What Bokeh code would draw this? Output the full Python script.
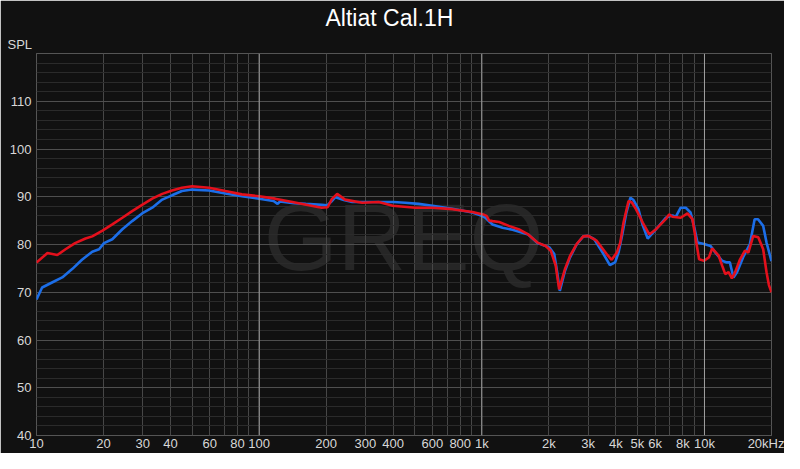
from bokeh.plotting import figure
from bokeh.models import Range1d, FixedTicker, CustomJSTickFormatter, Span, Label, Title
from bokeh.embed import file_html
from bokeh.resources import INLINE

title_text = "Altiat Cal.1H"
y_label = "SPL"
watermark = "GREQ"

x_label_ticks = [10, 20, 30, 40, 60, 80, 100, 200, 300, 400, 600, 800,
                 1000, 2000, 3000, 4000, 5000, 6000, 8000, 10000, 20000]
y_label_ticks = [40, 50, 60, 70, 80, 90, 100, 110]

freq_blue = [10, 10.6, 11.8, 13.05, 14.5, 16.0, 17.8, 19.1, 20.1, 21.9,
             24.3, 26.9, 29.8, 33.1, 36.7, 40.6, 45, 50, 59.6, 70.5,
             83.6, 100, 116, 121, 124, 140, 162, 191, 202, 211,
             220, 240, 262, 300, 344, 400, 453, 520, 600, 738,
             907, 1000, 1040, 1080, 1117, 1239, 1374, 1616, 1779, 2009,
             2115, 2180, 2240, 2364, 2490, 2666, 2855, 3007, 3200, 3520,
             3760, 3970, 4110, 4260, 4450, 4650, 4800, 5050, 5280, 5560,
             6060, 6700, 7180, 7430, 7820, 8240, 8660, 8970, 9300, 9960,
             10650, 11200, 12000, 12600, 13000, 13500, 14000, 14900, 16000, 16800,
             17400, 18350, 19000, 20000]
spl_blue = [68.5, 71.0, 72.1, 73.1, 74.9, 76.8, 78.5, 79.0, 80.3, 81.1,
            83.2, 84.9, 86.5, 87.7, 89.4, 90.3, 91.2, 91.5, 91.3, 90.7,
            90.1, 89.6, 89.1, 88.5, 89.0, 88.7, 88.5, 88.3, 88.2, 89.0,
            89.9, 89.3, 88.9, 88.9, 88.9, 88.9, 88.75, 88.5, 88.1, 87.5,
            86.7, 86.0, 85.6, 84.8, 84.2, 83.5, 83.1, 82.1, 80.3, 79.4,
            78.0, 74.2, 70.3, 74.5, 77.3, 80.0, 81.7, 81.8, 81.1, 78.0,
            75.7, 76.25, 78.3, 81.8, 86.5, 89.8, 89.3, 87.4, 84.0, 81.25,
            83.2, 85.6, 86.1, 85.8, 87.7, 87.7, 86.7, 83.9, 80.4, 80.1,
            79.7, 78.3, 76.6, 76.25, 76.25, 73.1, 74.2, 77.3, 80.1, 85.3,
            85.3, 83.9, 80.4, 76.5]

freq_red = [10, 11.2, 12.4, 13.5, 14.9, 16.6, 17.8, 19.7, 21.9, 24.3,
            26.9, 29.8, 33.1, 36.7, 40.6, 45, 50, 59.6, 70.5, 83.6,
            100, 118, 141, 167, 191, 203, 212, 224, 243, 290,
            344, 398, 503, 600, 738, 907, 1015, 1050, 1080, 1117,
            1196, 1323, 1462, 1616, 1779, 1936, 2040, 2147, 2225, 2364,
            2490, 2666, 2855, 3007, 3277, 3636, 3830, 4040, 4185, 4330,
            4560, 4720, 4925, 5280, 5650, 6060, 6700, 6935, 7180, 7820,
            8390, 8830, 9140, 9460, 9960, 10470, 10830, 11600, 12000, 12400,
            12830, 13280, 13730, 14450, 15200, 15740, 16560, 17440, 18350, 19000,
            19470, 20000]
spl_red = [76.25, 78.2, 77.8, 79.0, 80.3, 81.25, 81.7, 82.85, 84.2, 85.6,
           87.0, 88.3, 89.6, 90.6, 91.3, 91.9, 92.2, 91.9, 91.2, 90.5,
           90.1, 89.6, 88.9, 88.2, 87.7, 87.8, 89.5, 90.6, 89.4, 88.75,
           88.9, 88.1, 87.7, 87.7, 87.4, 86.8, 86.3, 86.0, 85.0, 84.9,
           84.7, 83.9, 83.2, 82.1, 80.4, 79.7, 78.7, 75.6, 70.6, 74.9,
           77.6, 80.1, 81.7, 81.8, 80.8, 78.0, 76.8, 78.3, 80.4, 84.6,
           89.1, 88.8, 87.4, 84.6, 82.1, 83.2, 85.3, 86.3, 85.8, 85.6,
           86.5, 85.3, 81.1, 76.9, 76.6, 77.3, 79.2, 77.6, 75.6, 73.8,
           74.2, 72.9, 74.2, 76.9, 78.7, 78.3, 81.8, 81.5, 79.0, 74.2,
           71.5, 70.0]

BG = "#111111"
FONT = "Liberation Sans"

p = figure(width=784, height=453, x_axis_type="log",
           x_range=Range1d(10, 20000), y_range=Range1d(40, 120),
           output_backend="svg", toolbar_location=None, title_location=None,
           min_border_left=36, min_border_right=13,
           min_border_top=52, min_border_bottom=17,
           background_fill_color=BG, border_fill_color=BG,
           outline_line_color="#555555")

# grids
all_x = []
for dec in [10, 100, 1000, 10000]:
    for m in range(1, 10):
        v = dec * m
        if v <= 20000:
            all_x.append(v)
all_x.append(20000)
p.xgrid.ticker = FixedTicker(ticks=all_x)
p.xgrid.grid_line_color = "#474747"
p.ygrid.ticker = FixedTicker(ticks=list(range(40, 121, 10)),
                             minor_ticks=[v for v in range(42, 120, 2) if v % 10])
p.ygrid.grid_line_color = "#4f4f4f"
p.ygrid.minor_grid_line_color = "#2b2b2b"

for loc in [100, 1000, 10000]:
    p.add_layout(Span(location=loc, dimension="height", line_color="#a0a0a0", line_width=1))

# axes
p.xaxis.ticker = FixedTicker(ticks=x_label_ticks, minor_ticks=[])
p.xaxis.formatter = CustomJSTickFormatter(code="""
if (tick >= 20000) return "20kHz";
if (tick >= 1000) return (tick/1000).toFixed(0) + "k";
return tick.toFixed(0);
""")
p.yaxis.ticker = FixedTicker(ticks=y_label_ticks, minor_ticks=[])
for ax in [p.xaxis[0], p.yaxis[0]]:
    ax.axis_line_color = None
    ax.major_tick_line_color = None
    ax.minor_tick_line_color = None
    ax.major_tick_out = 0
    ax.major_tick_in = 0
    ax.major_label_text_color = "#d8d8d8"
    ax.major_label_text_font = FONT
    ax.major_label_text_font_size = "13px"
p.xaxis.major_label_standoff = 0
p.yaxis.major_label_standoff = 5

# watermark under grid
p.add_layout(Label(x=445, y=81.5, text=watermark, text_align="center",
                   text_baseline="middle", text_font=FONT,
                   text_font_size="95px", text_color="#262626", level="image"))

p.line(freq_blue, spl_blue, line_color="#1c6ee8", line_width=2.6)
p.line(freq_red, spl_red, line_color="#e4101c", line_width=2.6)

# titles: first added sits closest to the frame
p.add_layout(Title(text=y_label, align="left", offset=-29, standoff=3,
                   text_font=FONT, text_font_size="13px",
                   text_font_style="normal", text_color="#d8d8d8"), "above")
p.add_layout(Title(text=title_text, align="left", offset=289, standoff=5,
                   text_font=FONT, text_font_size="23px",
                   text_font_style="normal", text_color="#ffffff"), "above")

open("out.html", "w").write(file_html(p, INLINE))
